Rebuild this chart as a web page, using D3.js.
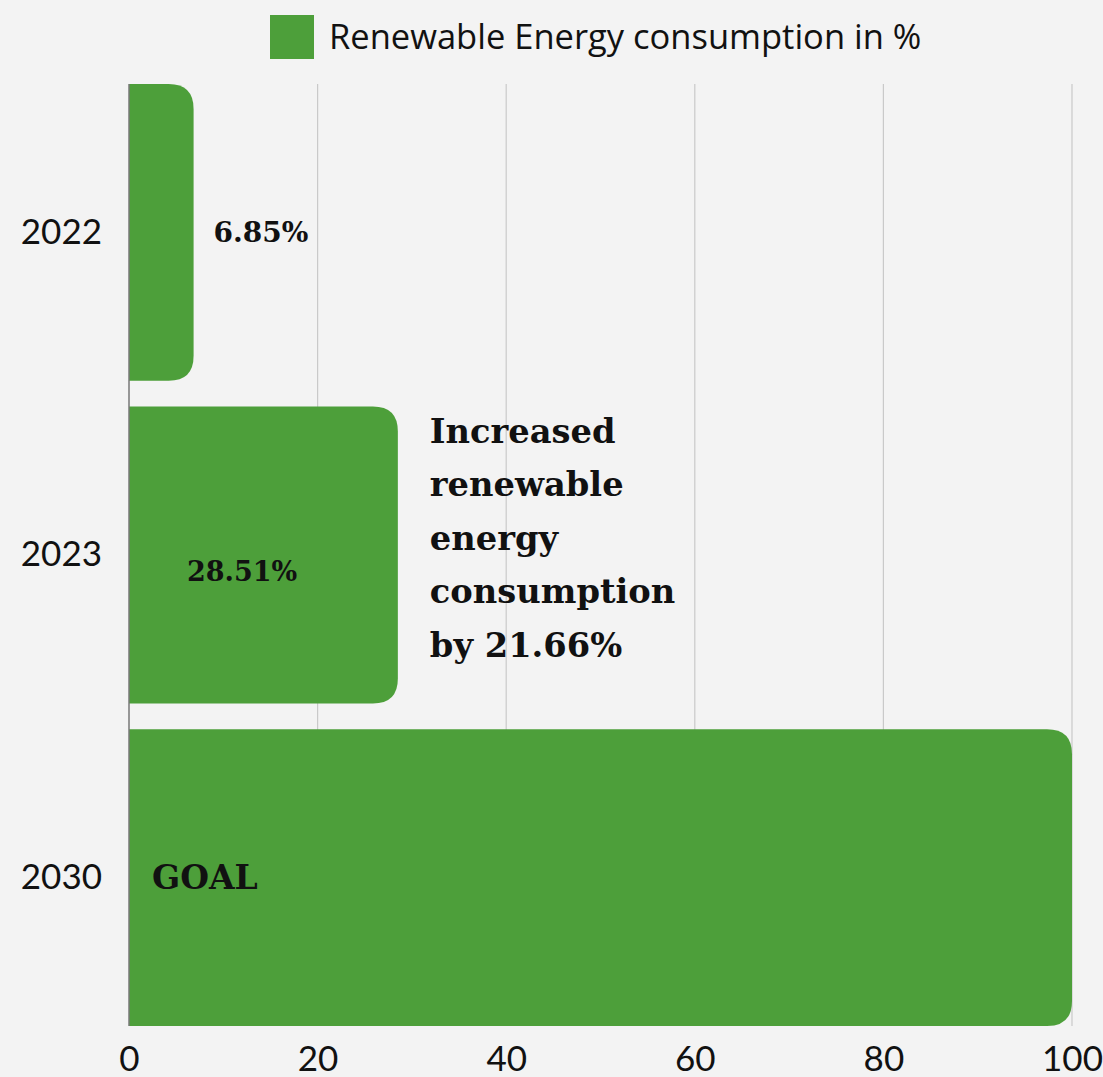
<!DOCTYPE html>
<html>
<head>
<meta charset="utf-8">
<script src="https://cdn.jsdelivr.net/npm/d3@7"></script>
<style>
  body { margin: 0; background: #f3f3f3; }
  .tick text { font-family: Lato, "Open Sans", sans-serif; }
</style>
</head>
<body>
<div class="chart"></div>
<script>
var years = ["2022", "2023", "2030"];
var values = [6.85, 28.51, 100];
var barLabels = ["6.85%", "28.51%", "GOAL"];
var xTicks = [0, 20, 40, 60, 80, 100];
var legendLabel = "Renewable Energy consumption in %";
var noteLines = ["Increased", "renewable", "energy", "consumption", "by 21.66%"];

var svgWidth = 1103;
var svgHeight = 1077;
var margin = { top: 84, right: 31, bottom: 51, left: 129 };
var width = svgWidth - margin.left - margin.right;
var height = svgHeight - margin.top - margin.bottom;

var svg = d3.select(".chart")
  .append("svg")
  .attr("width", svgWidth)
  .attr("height", svgHeight)
  .style("background", "#f3f3f3");

var chartGroup = svg.append("g")
  .attr("transform", `translate(${margin.left}, ${margin.top})`);

var xScale = d3.scaleLinear().domain([0, 100]).range([0, width]);
var yScale = d3.scaleBand().domain(years).range([0, height])
  .paddingInner(0.08).paddingOuter(0);

// grid lines
chartGroup.selectAll(".grid")
  .data(xTicks.slice(1))
  .enter()
  .append("line")
  .attr("x1", d => xScale(d))
  .attr("x2", d => xScale(d))
  .attr("y1", 0)
  .attr("y2", height)
  .attr("stroke", "#c9c9c9")
  .attr("stroke-width", 1.2);

// bars, rounded on the right end only
function barPath(d, i) {
  var x0 = xScale(0), x1 = xScale(values[i]);
  var y0 = yScale(d), y1 = y0 + yScale.bandwidth();
  var r = Math.min(25, (x1 - x0));
  return `M${x0},${y0} H${x1 - r} Q${x1},${y0} ${x1},${y0 + r}` +
    ` V${y1 - r} Q${x1},${y1} ${x1 - r},${y1} H${x0} Z`;
}

chartGroup.selectAll(".bar")
  .data(years)
  .enter()
  .append("path")
  .attr("class", "bar")
  .attr("d", barPath)
  .attr("fill", "#4d9f3a");

// left axis line
chartGroup.append("line")
  .attr("x1", 0).attr("x2", 0)
  .attr("y1", 0).attr("y2", height)
  .attr("stroke", "#777")
  .attr("stroke-width", 1.5);

// axes
var bottomAxis = d3.axisBottom(xScale).tickValues(xTicks).tickSize(0).tickPadding(20);
var leftAxis = d3.axisLeft(yScale).tickSize(0).tickPadding(27);

chartGroup.append("g")
  .attr("transform", `translate(0, ${height})`)
  .call(bottomAxis)
  .call(g => g.select(".domain").remove())
  .selectAll("text")
  .attr("font-size", "35px")
  .attr("fill", "#111");

chartGroup.append("g")
  .call(leftAxis)
  .call(g => g.select(".domain").remove())
  .selectAll("text")
  .attr("font-size", "35px")
  .attr("fill", "#111");

// value labels
var serif = "'DejaVu Serif', 'Liberation Serif', serif";
var mid = yScale.bandwidth() / 2;
chartGroup.append("text")
  .attr("x", xScale(values[0]) + 20)
  .attr("y", yScale(years[0]) + mid)
  .attr("dy", "0.35em")
  .attr("font-family", serif)
  .attr("font-weight", "bold")
  .attr("font-size", "28px")
  .attr("fill", "#111")
  .text(barLabels[0]);

chartGroup.append("text")
  .attr("x", 58)
  .attr("y", yScale(years[1]) + mid + 17)
  .attr("dy", "0.35em")
  .attr("font-family", serif)
  .attr("font-weight", "bold")
  .attr("font-size", "27px")
  .attr("fill", "#111")
  .text(barLabels[1]);

chartGroup.append("text")
  .attr("x", 23)
  .attr("y", yScale(years[2]) + mid)
  .attr("dy", "0.35em")
  .attr("font-family", serif)
  .attr("font-weight", "bold")
  .attr("font-size", "33px")
  .attr("fill", "#111")
  .text(barLabels[2]);

// annotation next to 2023
var note = chartGroup.append("text")
  .attr("font-family", serif)
  .attr("font-weight", "bold")
  .attr("font-size", "33.7px")
  .attr("fill", "#111");
note.selectAll("tspan")
  .data(noteLines)
  .enter()
  .append("tspan")
  .attr("x", xScale(values[1]) + 32)
  .attr("y", (d, i) => yScale(years[1]) + 36 + i * 53.5)
  .text(d => d);

// legend
var legend = svg.append("g").attr("transform", "translate(270, 15)");
legend.append("rect")
  .attr("width", 44).attr("height", 44)
  .attr("fill", "#4d9f3a");
legend.append("text")
  .attr("x", 59)
  .attr("y", 34)
  .attr("font-family", "'Open Sans', Lato, sans-serif")
  .attr("font-size", "34.5px")
  .attr("fill", "#111")
  .text(legendLabel);
</script>
</body>
</html>
